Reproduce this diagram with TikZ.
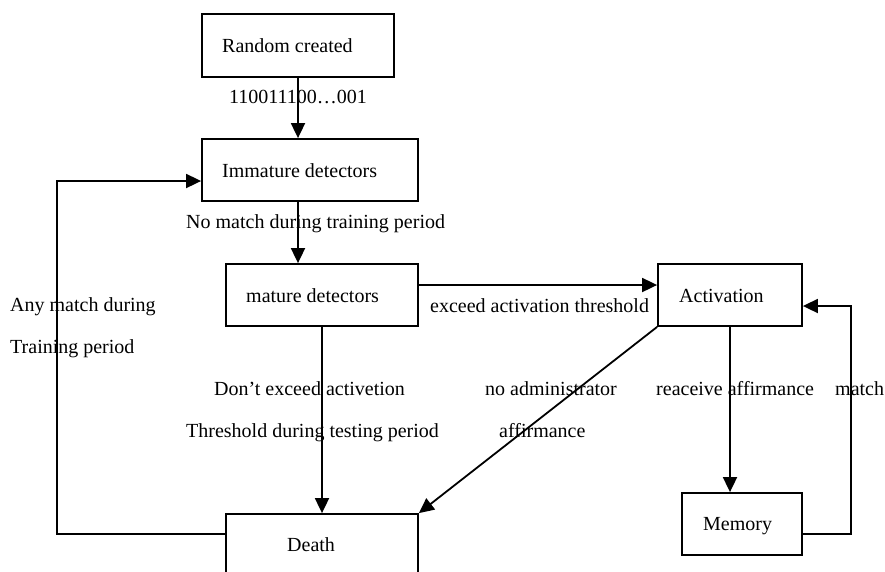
\documentclass[tikz,border=0pt]{standalone}
\usepackage{fontspec}
\setmainfont{Liberation Serif}
\usetikzlibrary{arrows.meta}
\begin{document}
\begin{tikzpicture}[x=1pt,y=-1pt,
  box/.style={draw, line width=1.8pt, inner sep=0pt},
  txt/.style={anchor=west, inner sep=0pt, font=\fontsize{20}{24}\selectfont, text height=14pt, text depth=4pt},
  conn/.style={line width=1.8pt, -{Triangle[length=15pt,width=14pt]}},
  plain/.style={line width=1.8pt}]
\useasboundingbox (0,0) rectangle (885,571);
% boxes
\node[box, minimum width=192pt, minimum height=63pt] (rc) at (298,45.5) {};
\node[box, minimum width=216pt, minimum height=62pt] (imm) at (310,170) {};
\node[box, minimum width=192pt, minimum height=62pt] (mat) at (322,295) {};
\node[box, minimum width=144pt, minimum height=62pt] (act) at (730,295) {};
\node[box, minimum width=120pt, minimum height=62pt] (mem) at (742,524) {};
\node[box, minimum width=192pt, minimum height=63pt] (death) at (322,545.5) {};
% box texts
\node[txt] (rct) at (222,47) {Random created};
\node[txt] (immt) at (222,172) {Immature detectors};
\node[txt] (matt) at (246,297) {mature detectors};
\node[txt] (actt) at (679,297) {Activation};
\node[txt] (memt) at (703,525) {Memory};
\node[txt] (deatht) at (287,546) {Death};
% connectors
\draw[conn] (rc.south) -- (rc.south |- imm.north);
\draw[conn] (imm.south -| rc.south) -- (mat.north -| rc.south);
\draw[conn] ([yshift=10pt]mat.east) -- ([yshift=10pt]act.west);
\draw[conn] (act.south) -- (act.south |- mem.north);
\draw[conn] ([yshift=-10pt]mem.east) -- ++(48,0) |- ([yshift=-11pt]act.east);
\draw[conn] (act.south west) -- (death.north east);
\draw[conn] (mat.south) -- (death.north);
\draw[conn] ([yshift=11.5pt]death.west) -- ++(-168,0) |- ([yshift=-11pt]imm.west);
% labels
\node[txt] (l1) at (229,98) {110011100…001};
\node[txt] (l2) at (186,223) {No match during training period};
\node[txt] (l3) at (430,307) {exceed activation threshold};
\node[txt] (l4a) at (10,306) {Any match during};
\node[txt] (l4b) at (10,348) {Training period};
\node[txt] (l5a) at (214,390) {Don’t exceed activetion};
\node[txt] (l5b) at (186,432) {Threshold during testing period};
\node[txt] (l6a) at (485,390) {no administrator};
\node[txt] (l6b) at (499,432) {affirmance};
\node[txt] (l7) at (656,390) {reaceive affirmance};
\node[txt] (l8) at (835,390) {match};
\end{tikzpicture}
\end{document}
